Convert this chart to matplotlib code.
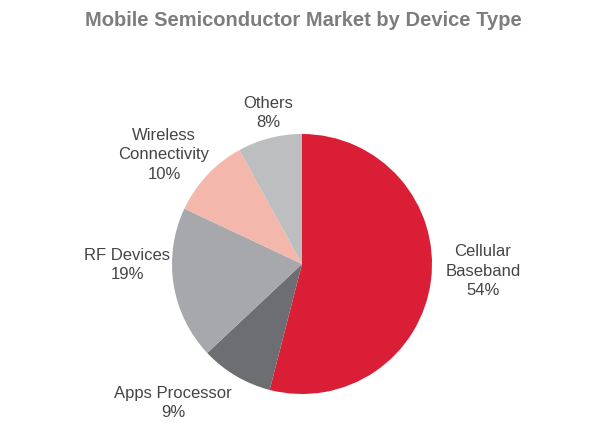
import matplotlib.pyplot as plt

# данные
categories = ["Cellular\nBaseband", "Apps Processor", "RF Devices",
              "Wireless\nConnectivity", "Others"]
shares = [54, 9, 19, 10, 8]
colors = ["#D91E36", "#6D6E71", "#A6A8AB", "#F4B7AC", "#BDBEC0"]

# положение подписей (пиксели от левого верхнего угла)
label_pos = [(483, 271), (173, 403), (127, 265), (164, 155), (268, 113)]

W, H = 590, 442
cx, cy, r = 302, 264, 130

plt.rcParams['font.family'] = ['Liberation Sans', 'DejaVu Sans']

fig = plt.figure(figsize=(W / 100, H / 100), dpi=100)
ax = fig.add_axes([0, 0, 1, 1])

ax.pie(shares, colors=colors, startangle=90, counterclock=False,
       center=(cx, H - cy), radius=r, wedgeprops=dict(linewidth=0))

for name, val, (px, py) in zip(categories, shares, label_pos):
    ax.text(px, H - py, f"{name}\n{val}%", ha="center", va="center",
            fontsize=12, color="#444444", linespacing=1.38)

ax.text(W / 2 + 8, H - 21, "Mobile Semiconductor Market by Device Type",
        ha="center", va="center", fontsize=14.5, fontweight="bold",
        color="#7D7D7D")

ax.set_xlim(0, W)
ax.set_ylim(0, H)
ax.set_aspect("equal")
ax.axis("off")

plt.savefig("out.png", dpi=100)
